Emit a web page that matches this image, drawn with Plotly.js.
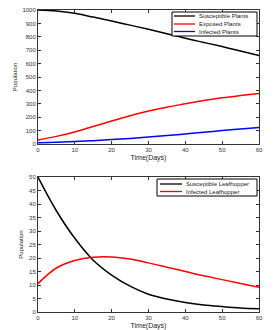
<!DOCTYPE html>
<html><head><meta charset="utf-8">
<script src="https://cdn.plot.ly/plotly-3.0.1.min.js"></script>
<style>html,body{margin:0;padding:0;background:#fff}#c{width:277px;height:330px}</style>
</head><body><div id="c"></div>
<script>
const days = [0, 5, 10, 15, 20, 25, 30, 35, 40, 45, 50, 55, 60];
const susceptiblePlants = [1000, 993, 975, 947, 918, 887, 856, 823, 789, 758, 727, 694, 660];
const exposedPlants = [30, 57, 90, 131, 172, 211, 246, 275, 300, 324, 345, 362, 377];
const infectedPlants = [10, 13, 18, 25, 33, 42, 52, 63, 75, 87, 100, 112, 124];
const susceptibleLeafhopper = [50, 37.5, 27.3, 19.2, 13.7, 9.6, 6.6, 4.8, 3.5, 2.6, 2.0, 1.5, 1.2];
const infectedLeafhopper = [10.5, 16.3, 19.1, 20.3, 20.4, 19.6, 18.2, 16.6, 15.0, 13.4, 12.0, 10.6, 9.2];
const plantNames = ['Susceptible Plants', 'Exposed Plants', 'Infected Plants'];
const hopperNames = ['Susceptible Leafhopper', 'Infected Leafhopper'];
const plantColors = ['#000000', '#ff0000', '#0000ff'];
const hopperColors = ['#000000', '#ff0000'];

const W = 277, H = 330;
const F = 'Liberation Sans, Arial, sans-serif';
const px = v => v / W, py = v => 1 - v / H;

function tr(y, name, color, xa, ya) {
  return {x: days, y: y, name: name, type: 'scatter', mode: 'lines',
    line: {color: color, width: 1.5, shape: 'spline'}, xaxis: xa, yaxis: ya, showlegend: false};
}
const data = [
  tr(susceptiblePlants, plantNames[0], plantColors[0], 'x', 'y'),
  tr(exposedPlants, plantNames[1], plantColors[1], 'x', 'y'),
  tr(infectedPlants, plantNames[2], plantColors[2], 'x', 'y'),
  tr(susceptibleLeafhopper, hopperNames[0], hopperColors[0], 'x2', 'y2'),
  tr(infectedLeafhopper, hopperNames[1], hopperColors[1], 'x2', 'y2')
];
function ax(extra) {
  return Object.assign({showgrid: false, zeroline: false, showline: true, linecolor: '#333',
    linewidth: 1, mirror: 'ticks', ticks: 'inside', ticklen: 3, tickcolor: '#333',
    tickfont: {family: F, size: 6, color: '#333'}, automargin: false}, extra);
}

// Manual compact legends (MATLAB style)
const shapes = [], annotations = [];
function legendBox(names, colors, box, lineX0, lineX1, textX, rows) {
  shapes.push({type: 'rect', xref: 'paper', yref: 'paper', x0: px(box[0]), x1: px(box[1]),
    y0: py(box[3]), y1: py(box[2]), line: {color: '#000', width: 1}, fillcolor: '#fff', layer: 'above'});
  names.forEach((n, i) => {
    shapes.push({type: 'line', xref: 'paper', yref: 'paper', x0: px(lineX0), x1: px(lineX1),
      y0: py(rows[i]), y1: py(rows[i]), line: {color: colors[i], width: 1.3}, layer: 'above'});
    annotations.push({xref: 'paper', yref: 'paper', x: px(textX), y: py(rows[i]), text: n,
      showarrow: false, xanchor: 'left', yanchor: 'middle', font: {family: F, size: 6, color: '#222'}});
  });
}
legendBox(plantNames, plantColors, [172, 257, 12, 36], 174, 195, 197, [16, 24, 31.5]);
legendBox(hopperNames, hopperColors, [157, 257, 179, 196], 160, 182, 184, [184, 191.5]);

const layout = {
  width: W, height: H, margin: {l: 0, r: 0, t: 0, b: 0},
  paper_bgcolor: '#fff', plot_bgcolor: '#fff', showlegend: false,
  xaxis: ax({domain: [0.137, 0.935], range: [0, 60], dtick: 10, anchor: 'y',
    title: {text: 'Time(Days)', font: {family: F, size: 7, color: '#222'}, standoff: 2}}),
  yaxis: ax({domain: [0.5636, 0.9697], range: [0, 1000], dtick: 100, anchor: 'x',
    title: {text: 'Population', font: {family: F, size: 6, color: '#222'}, standoff: 4}}),
  xaxis2: ax({domain: [0.137, 0.935], range: [0, 60], dtick: 10, anchor: 'y2',
    title: {text: 'Time(Days)', font: {family: F, size: 7, color: '#222'}, standoff: 2}}),
  yaxis2: ax({domain: [0.0545, 0.4636], range: [0, 50], dtick: 5, anchor: 'x2',
    title: {text: 'Population', font: {family: F, size: 6, color: '#222'}, standoff: 4}}),
  shapes: shapes, annotations: annotations
};
Plotly.newPlot('c', data, layout, {staticPlot: true, displayModeBar: false});
</script></body></html>
